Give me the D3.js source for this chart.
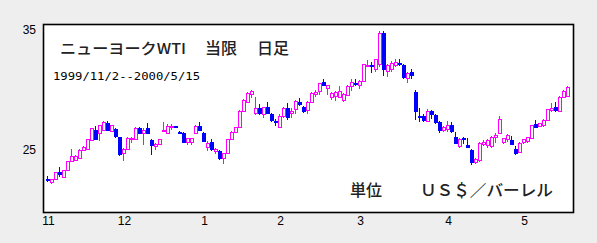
<!DOCTYPE html>
<html>
<head>
<meta charset="utf-8">
<script src="https://cdn.jsdelivr.net/npm/d3@7/dist/d3.min.js"></script>
<style>
  html, body { margin: 0; padding: 0; background: #eeeeee; }
  svg { display: block; }
</style>
</head>
<body>
<svg id="chart" width="597" height="243"></svg>
<script>
// daily candles, 1999/11/2 -- 2000/5/15
const opens = [
  22.6, 22.3, 22.58, 23.2, 22.75, 23.3, 24.1, 24.17, 24.35, 24.97, 25.1, 25.86, 26.67, 26.4, 26.7, 27.25, 26.58, 26.75, 26.08, 24.72, 25.08, 25.9,
  25.9, 26.8, 26.4, 26.8, 25.8, 25.33, 25.5, 26.55, 26.45, 26.9, 26.98, 26.5, 26.45, 25.7, 25.7, 26.45, 27.0, 26.45, 25.28, 25.65, 24.9, 24.9,
  24.3, 24.78, 25.9, 26.47, 26.9, 28.22, 29.0, 29.67, 28.06, 28.47, 28.0, 28.56, 27.97, 27.4, 26.9, 27.83, 28.47, 28.06, 28.4, 29.0, 28.6,
  28.33, 29.0, 29.7, 29.92, 30.67, 30.19, 29.44, 29.5, 29.44, 29.17, 29.56, 30.33, 30.58, 30.39, 30.75, 32.0, 32.05, 31.72, 32.14, 34.78, 31.58,
  31.72, 32.08, 32.25, 32.08, 30.97, 31.53, 29.86, 27.82, 27.86, 27.42, 28.28, 27.92, 27.36, 26.67, 26.78, 27.08, 26.1, 25.33, 25.97, 25.4, 25.0, 23.97, 24.17,
  25.5, 25.42, 25.33, 26.1, 26.4, 25.7, 25.9, 25.83, 25.1, 24.86, 25.7, 25.78, 25.97, 27.17, 27.0, 27.08, 27.5, 28.33, 28.56, 28.28, 29.44, 29.5
];
const highs = [
  22.8, 22.6, 23.2, 23.56, 23.35, 24.1, 25.06, 24.6, 25.1, 25.3, 25.95, 26.85, 27.0, 27.1, 27.4, 27.4, 27.1, 26.8, 26.1, 25.15, 26.1, 26.1,
  26.9, 26.9, 26.8, 27.25, 25.9, 25.6, 25.95, 27.3, 27.2, 27.2, 27.0, 26.6, 26.5, 26.0, 26.0, 27.1, 27.35, 26.5, 25.75, 25.9, 25.2, 25.0,
  24.75, 25.95, 26.55, 26.95, 28.3, 29.25, 29.85, 30.0, 29.4, 28.8, 28.6, 29.0, 28.1, 27.6, 28.0, 28.6, 28.9, 28.5, 29.2, 29.3, 28.7,
  29.05, 29.8, 30.0, 30.6, 30.9, 30.45, 29.8, 29.9, 30.3, 29.75, 30.4, 30.95, 30.9, 30.8, 32.2, 32.5, 32.3, 32.6, 34.9, 34.94, 32.15,
  32.4, 32.55, 32.6, 32.15, 31.5, 31.75, 30.0, 28.5, 28.0, 28.45, 28.3, 28.0, 27.4, 27.0, 27.4, 27.3, 26.5, 26.0, 26.1, 26.0, 25.1, 24.3, 25.65,
  25.8, 25.9, 26.2, 26.4, 27.8, 26.0, 26.3, 26.2, 25.3, 25.65, 25.95, 26.1, 27.1, 27.5, 27.25, 27.55, 28.45, 28.9, 29.0, 29.5, 30.0, 30.35
];
const lows = [
  22.35, 22.2, 22.5, 22.75, 22.7, 23.25, 24.0, 24.1, 24.3, 24.9, 25.0, 25.8, 25.8, 25.75, 26.6, 26.6, 26.5, 26.0, 24.5, 24.1, 25.0, 25.6,
  25.8, 26.3, 25.4, 26.3, 24.6, 25.0, 25.4, 26.5, 26.3, 26.7, 26.9, 26.3, 25.6, 25.4, 25.4, 26.4, 26.6, 25.7, 24.9, 24.9, 24.7, 24.2,
  23.8, 24.7, 25.85, 26.4, 26.85, 28.15, 28.9, 29.3, 27.9, 27.9, 27.7, 28.0, 27.3, 27.0, 26.85, 27.7, 27.5, 27.7, 28.0, 28.7, 28.1,
  28.0, 28.9, 29.4, 29.6, 30.3, 29.6, 29.2, 29.1, 29.3, 29.0, 29.5, 29.9, 30.3, 30.1, 30.7, 31.9, 31.4, 31.5, 31.9, 31.17, 31.1,
  31.5, 31.9, 32.0, 30.95, 30.6, 30.9, 27.5, 27.3, 27.3, 27.3, 27.6, 27.2, 26.4, 26.5, 26.5, 26.4, 25.6, 25.2, 25.5, 25.2, 23.75, 23.85, 24.0,
  25.3, 25.2, 25.2, 25.6, 26.3, 25.5, 25.7, 25.5, 24.55, 24.8, 25.5, 25.6, 25.9, 26.8, 26.9, 26.9, 27.4, 28.2, 28.2, 28.2, 29.3, 29.4
];
const closes = [
  22.55, 22.58, 23.14, 23.03, 23.33, 24.06, 24.5, 24.53, 25.03, 25.22, 25.9, 26.8, 25.92, 27.08, 27.3, 26.7, 27.06, 26.14, 24.67, 25.08, 26.03, 26.03,
  26.8, 26.44, 26.7, 26.4, 25.4, 25.5, 25.9, 26.65, 27.0, 27.0, 26.93, 26.4, 25.7, 25.97, 25.97, 27.0, 26.7, 25.78, 25.6, 25.06, 25.1, 24.36,
  24.72, 25.89, 26.47, 26.89, 28.22, 29.17, 29.78, 29.94, 28.47, 28.1, 28.56, 28.1, 27.5, 27.36, 27.83, 28.47, 27.78, 28.25, 29.1, 28.8, 28.28,
  29.0, 29.72, 29.8, 30.56, 30.44, 30.39, 29.72, 29.83, 29.89, 29.64, 30.33, 30.67, 30.53, 30.75, 32.14, 32.1, 32.0, 32.56, 34.72, 31.72, 32.06,
  32.22, 32.36, 32.2, 31.1, 31.44, 31.25, 28.28, 27.78, 27.5, 28.28, 28.0, 27.33, 26.67, 26.89, 27.06, 26.58, 25.6, 25.94, 25.94, 25.22, 23.97, 24.22, 25.6,
  25.7, 25.83, 26.1, 26.25, 27.56, 25.97, 26.25, 25.5, 24.78, 25.6, 25.9, 26.06, 27.08, 26.94, 27.22, 27.5, 28.39, 28.47, 28.33, 29.44, 29.94, 30.28
];
const monthIdx = [0, 19, 39, 58, 78, 100, 119];
const monthLabels = ['11', '12', '1', '2', '3', '4', '5'];
const yTicks = [25, 35];

const candles = closes.map((c, i) => ({ i, o: opens[i], h: highs[i], l: lows[i], c }));

const svg = d3.select('#chart');
const plot = { left: 43, top: 24, right: 573, bottom: 212 };

const x = d3.scaleLinear().domain([0, candles.length - 1]).range([47, 567]);
const y = d3.scaleLinear().domain([25, 35]).range([150, 30]);

svg.append('rect')
  .attr('x', plot.left + 0.5)
  .attr('y', plot.top + 0.5)
  .attr('width', plot.right - plot.left)
  .attr('height', plot.bottom - plot.top)
  .attr('fill', '#fff')
  .attr('stroke', '#000')
  .attr('stroke-width', 1.6);

// y labels only, no ticks or axis line
const yAxis = svg.append('g')
  .attr('transform', 'translate(36,0)')
  .call(d3.axisLeft(y).tickValues(yTicks).tickSize(0).tickPadding(0).tickFormat(d3.format('d')));
yAxis.select('.domain').remove();
yAxis.selectAll('text')
  .attr('font-family', 'Liberation Sans, Arial, sans-serif')
  .attr('font-size', 12)
  .attr('fill', '#000');

// month labels at the first trading day of each month
const xAxis = svg.append('g')
  .attr('transform', `translate(0,${plot.bottom + 4})`)
  .call(d3.axisBottom(x).tickValues(monthIdx).tickSize(0).tickPadding(0)
    .tickFormat((d, k) => monthLabels[k]));
xAxis.select('.domain').remove();
xAxis.selectAll('text')
  .attr('dx', 1)
  .attr('font-family', 'Liberation Sans, Arial, sans-serif')
  .attr('font-size', 12)
  .attr('fill', '#000');

const up = '#ff00ff';
const down = '#0000ff';
const px = (i) => Math.round(x(i));
const bodyTop = (d) => Math.round(y(Math.max(d.o, d.c)));
const bodyH = (d) => Math.max(2, Math.round(y(Math.min(d.o, d.c))) - bodyTop(d) + 1);

const g = svg.append('g').attr('shape-rendering', 'crispEdges');

const candle = g.selectAll('g')
  .data(candles)
  .join('g');

candle.append('rect')
  .attr('x', (d) => px(d.i))
  .attr('y', (d) => Math.round(y(d.h)))
  .attr('width', 1)
  .attr('height', (d) => Math.max(1, Math.round(y(d.l)) - Math.round(y(d.h))))
  .attr('fill', (d) => d.c > d.o ? up : down);

// body: solid box; up days get a white inside so they read as hollow
candle.append('rect')
  .attr('x', (d) => px(d.i) - 1)
  .attr('y', bodyTop)
  .attr('width', 4)
  .attr('height', bodyH)
  .attr('fill', (d) => d.c > d.o ? up : down);

candle.filter((d) => d.c > d.o && bodyH(d) > 2)
  .append('rect')
  .attr('x', (d) => px(d.i))
  .attr('y', (d) => bodyTop(d) + 1)
  .attr('width', 2)
  .attr('height', (d) => bodyH(d) - 2)
  .attr('fill', '#fff');

// titles
const jp = '"Noto Sans CJK JP", "Noto Sans CJK SC", sans-serif';
svg.append('text')
  .attr('x', 60).attr('y', 54)
  .attr('font-family', jp).attr('font-size', 15).attr('font-weight', 500)
  .attr('textLength', 126).attr('lengthAdjust', 'spacingAndGlyphs')
  .attr('fill', '#222')
  .text('ニューヨークWTI');
svg.append('text')
  .attr('x', 205).attr('y', 54)
  .attr('font-family', jp).attr('font-size', 16).attr('font-weight', 500)
  .attr('fill', '#222')
  .text('当限');
svg.append('text')
  .attr('x', 257).attr('y', 54)
  .attr('font-family', jp).attr('font-size', 16).attr('font-weight', 500)
  .attr('fill', '#222')
  .text('日足');

svg.append('text')
  .attr('x', 53).attr('y', 80)
  .attr('font-family', 'DejaVu Sans Mono, monospace').attr('font-size', 11)
  .attr('textLength', 147).attr('lengthAdjust', 'spacingAndGlyphs')
  .attr('fill', '#000')
  .text('1999/11/2--2000/5/15');

svg.append('text')
  .attr('x', 350).attr('y', 196)
  .attr('font-family', jp).attr('font-size', 16).attr('font-weight', 500)
  .attr('fill', '#222')
  .text('単位');
svg.append('text')
  .attr('x', 420).attr('y', 196)
  .attr('font-family', jp).attr('font-size', 16).attr('font-weight', 500)
  .attr('textLength', 133).attr('lengthAdjust', 'spacingAndGlyphs')
  .attr('fill', '#222')
  .text('ＵＳ＄／バーレル');
</script>
</body>
</html>
